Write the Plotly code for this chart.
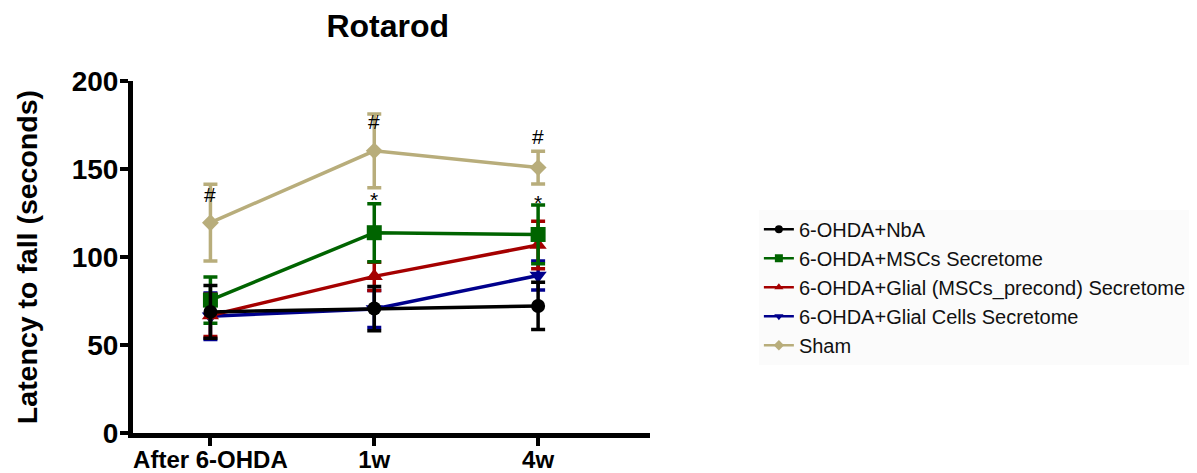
import plotly.graph_objects as go

# ---- data ----
timepoints = ["After 6-OHDA", "1w", "4w"]

series_names = [
    "6-OHDA+NbA",
    "6-OHDA+MSCs Secretome",
    "6-OHDA+Glial (MSCs_precond) Secretome",
    "6-OHDA+Glial Cells Secretome",
    "Sham",
]
nba_mean = [68.8, 70.7, 72.2]
nba_err = [15.0, 12.6, 13.4]
msc_mean = [75.5, 113.8, 112.8]
msc_err = [13.2, 16.5, 16.7]
precond_mean = [66.8, 89.0, 106.8]
precond_err = [12.0, 8.0, 13.5]
glial_mean = [66.3, 70.5, 89.5]
glial_err = [13.2, 10.5, 8.2]
sham_mean = [119.5, 160.3, 150.8]
sham_err = [21.8, 21.0, 9.3]

hash_y = [135.5, 177.0, 168.5]          # '#' marks (Sham)
star_x = ["1w", "4w"]
star_y = [132.5, 131.0]                 # '*' marks (MSCs Secretome)

y_ticks = [0, 50, 100, 150, 200]

colors = {
    "6-OHDA+NbA": "#000000",
    "6-OHDA+MSCs Secretome": "#006400",
    "6-OHDA+Glial (MSCs_precond) Secretome": "#a50000",
    "6-OHDA+Glial Cells Secretome": "#00008c",
    "Sham": "#b8ad7b",
}
symbols = {
    "6-OHDA+NbA": "circle",
    "6-OHDA+MSCs Secretome": "square",
    "6-OHDA+Glial (MSCs_precond) Secretome": "triangle-up",
    "6-OHDA+Glial Cells Secretome": "triangle-down",
    "Sham": "diamond",
}
sizes = {
    "6-OHDA+NbA": 14,
    "6-OHDA+MSCs Secretome": 15,
    "6-OHDA+Glial (MSCs_precond) Secretome": 15,
    "6-OHDA+Glial Cells Secretome": 15,
    "Sham": 13,
}
data = {
    "6-OHDA+NbA": (nba_mean, nba_err),
    "6-OHDA+MSCs Secretome": (msc_mean, msc_err),
    "6-OHDA+Glial (MSCs_precond) Secretome": (precond_mean, precond_err),
    "6-OHDA+Glial Cells Secretome": (glial_mean, glial_err),
    "Sham": (sham_mean, sham_err),
}

FONT = "Liberation Sans, Arial, sans-serif"

fig = go.Figure()

# draw first data set on top (Prism style): add in reverse order
for name in reversed(series_names):
    m, e = data[name]
    fig.add_trace(go.Scatter(
        x=timepoints, y=m, name=name, mode="lines+markers",
        line=dict(color=colors[name], width=3.5),
        marker=dict(symbol=symbols[name], size=sizes[name], color=colors[name]),
        error_y=dict(type="data", array=e, visible=True, color=colors[name],
                     thickness=3.5, width=7),
        showlegend=False,
    ))

# legend-only entries with small markers
for name in series_names:
    fig.add_trace(go.Scatter(
        x=[None], y=[None], name=name, mode="lines+markers",
        line=dict(color=colors[name], width=2.5),
        marker=dict(symbol=symbols[name], size=8, color=colors[name]),
        showlegend=True,
    ))

annotations = []
for x, y in zip(timepoints, hash_y):
    annotations.append(dict(x=x, y=y, xref="x", yref="y", text="#", showarrow=False,
                            font=dict(family=FONT, size=21, color="black"),
                            xanchor="center", yanchor="middle"))
for x, y in zip(star_x, star_y):
    annotations.append(dict(x=x, y=y, xref="x", yref="y", text="*", showarrow=False,
                            font=dict(family=FONT, size=21, color="black"),
                            xanchor="center", yanchor="middle"))
annotations.append(dict(x=-0.2396, y=0.5, xref="paper", yref="paper",
                        text="Latency to fall (seconds)", textangle=-90,
                        showarrow=False, xanchor="left", yanchor="middle",
                        font=dict(family=FONT, size=28.5, color="black", weight="bold")))

W, H = 1189, 465   # page adds an 8px body margin
fig.update_layout(
    width=W, height=H,
    margin=dict(l=124.5, r=547, t=72.7, b=40.3, autoexpand=False),
    paper_bgcolor="white", plot_bgcolor="white",
    title=dict(text="Rotarod", x=0.4928, xref="paper", xanchor="center",
               y=1 - 18 / H, yref="container", yanchor="middle",
               font=dict(family=FONT, size=32, color="black", weight="bold")),
    xaxis=dict(
        type="category", categoryorder="array", categoryarray=timepoints,
        range=[-0.4726, 2.6829], automargin=False,
        showline=True, linecolor="black", linewidth=5,
        ticks="outside", ticklen=8, tickwidth=4, tickcolor="black",
        ticklabelstandoff=-7,
        showgrid=False, zeroline=False,
        tickfont=dict(family=FONT, size=24, color="black", weight="bold"),
    ),
    yaxis=dict(
        range=[0, 200], tickvals=y_ticks, automargin=False,
        showline=True, linecolor="black", linewidth=5,
        ticks="outside", ticklen=8, tickwidth=4, tickcolor="black",
        ticklabelstandoff=-4,
        showgrid=False, zeroline=False,
        tickfont=dict(family=FONT, size=28, color="black", weight="bold"),
    ),
    legend=dict(
        traceorder="normal", x=1.2106, xref="paper", xanchor="left",
        y=0.414, yanchor="middle", bgcolor="#fbfbfb",
        font=dict(family=FONT, size=20, color="#111111"),
    ),
    annotations=annotations,
)

fig.write_html("out.html")
